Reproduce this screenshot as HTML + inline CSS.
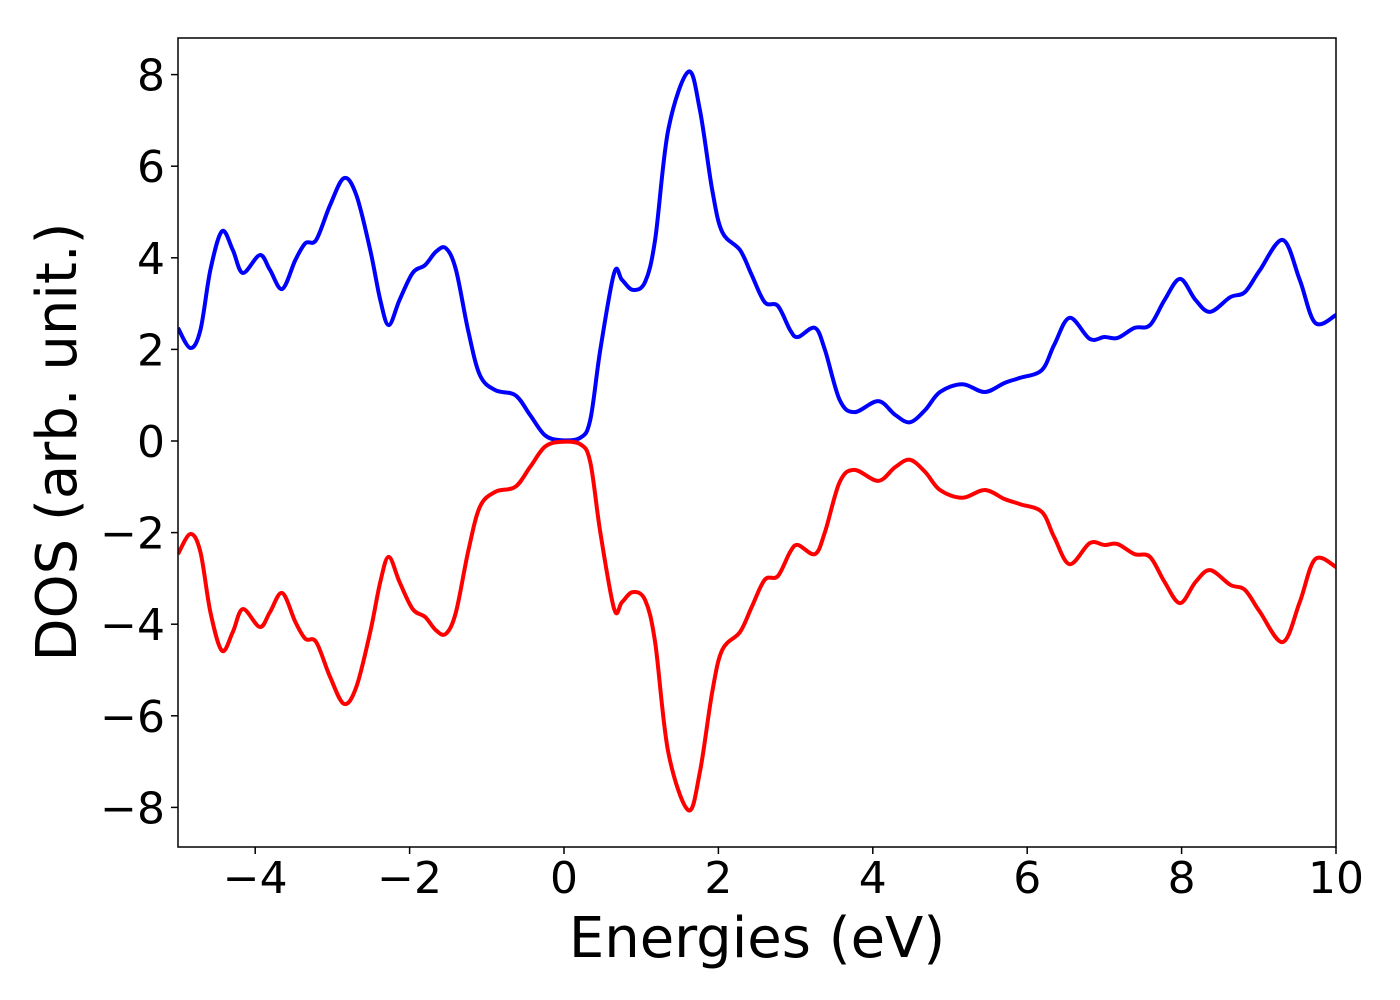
<!DOCTYPE html>
<html><head><meta charset="utf-8"><style>
body{margin:0;background:#fff;}
svg{display:block;font-family:"DejaVu Sans","Liberation Sans",sans-serif;}
</style></head><body>
<svg id="chart" width="1400" height="1000" viewBox="0 0 1400 1000" xmlns="http://www.w3.org/2000/svg"></svg>
<script>
const energies=[-5,-4.84,-4.71,-4.58,-4.43,-4.29,-4.16,-3.94,-3.81,-3.65,-3.48,-3.35,-3.21,-3.03,-2.85,-2.69,-2.51,-2.38,-2.27,-2.13,-1.96,-1.80,-1.66,-1.53,-1.40,-1.24,-1.09,-0.89,-0.63,-0.44,-0.25,-0.05,0.21,0.34,0.47,0.65,0.75,0.89,1.05,1.18,1.35,1.61,1.76,1.92,2.05,2.28,2.43,2.60,2.77,2.93,3.03,3.25,3.38,3.57,3.76,4.07,4.29,4.48,4.68,4.87,5.16,5.45,5.71,5.91,6.19,6.35,6.55,6.81,7.00,7.17,7.39,7.59,7.78,7.98,8.18,8.37,8.63,8.82,9.01,9.31,9.53,9.73,10];
const dosUp=[2.47,2.03,2.42,3.74,4.58,4.17,3.67,4.06,3.74,3.32,3.95,4.32,4.39,5.15,5.74,5.37,4.17,3.08,2.53,3.08,3.67,3.84,4.13,4.21,3.74,2.4,1.44,1.11,1.0,0.57,0.13,0.02,0.07,0.46,1.99,3.67,3.52,3.3,3.47,4.39,6.79,8.06,7.23,5.48,4.56,4.17,3.63,3.03,2.95,2.42,2.27,2.47,1.99,0.9,0.63,0.87,0.57,0.41,0.68,1.07,1.24,1.07,1.27,1.38,1.55,2.1,2.69,2.23,2.27,2.25,2.47,2.53,3.08,3.54,3.08,2.82,3.14,3.25,3.72,4.39,3.52,2.58,2.75];
const dosDown=dosUp.map(v=>-v);
const xTicks=[-4,-2,0,2,4,6,8,10];
const yTicks=[-8,-6,-4,-2,0,2,4,6,8];
const L=178,R=1336,T=38,B=847;
const xS=v=>L+(v+5)*(R-L)/15;
const yS=v=>441-v*45.8;
const svg=document.getElementById('chart');
const NS='http://www.w3.org/2000/svg';
function mk(tag,attrs,parent){const e=document.createElementNS(NS,tag);for(const k in attrs)e.setAttribute(k,attrs[k]);(parent||svg).appendChild(e);return e;}
function pathD(xs,ys){const p=xs.map((x,i)=>[xS(x),yS(ys[i])]);let d='M'+p[0][0]+','+p[0][1];
for(let i=0;i<p.length-1;i++){const p0=p[i-1]||p[i],p1=p[i],p2=p[i+1],p3=p[i+2]||p2;
const c1x=p1[0]+(p2[0]-p0[0])/6,c1y=p1[1]+(p2[1]-p0[1])/6,c2x=p2[0]-(p3[0]-p1[0])/6,c2y=p2[1]-(p3[1]-p1[1])/6;
d+=` C${c1x},${c1y} ${c2x},${c2y} ${p2[0]},${p2[1]}`;}return d;}
const cp=mk('clipPath',{id:'clip'});
mk('rect',{x:L,y:T,width:R-L,height:B-T},cp);
const up=mk('path',{d:pathD(energies,dosUp),fill:'none',stroke:'#0000ff','stroke-width':4,'clip-path':'url(#clip)'});


const dn=mk('path',{d:pathD(energies,dosDown),fill:'none',stroke:'#ff0000','stroke-width':4,'clip-path':'url(#clip)'});


const frame=mk('rect',{x:L,y:T,width:R-L,height:B-T,fill:'none',stroke:'#000','stroke-width':1.5});


xTicks.forEach(v=>{const x=xS(v);mk('line',{x1:x,x2:x,y1:B,y2:B+7,stroke:'#000','stroke-width':1.5});
const t=mk('text',{x:x,y:893,'font-size':44,'text-anchor':'middle',fill:'#000'});t.textContent=(v<0?'\u2212'+(-v):v);

});
yTicks.forEach(v=>{const y=yS(v);mk('line',{x1:L-7,x2:L,y1:y,y2:y,stroke:'#000','stroke-width':1.5});
const t=mk('text',{x:165,y:y+16,'font-size':44,'text-anchor':'end',fill:'#000'});t.textContent=(v<0?'\u2212'+(-v):v);

});
const xt=mk('text',{x:757,y:957,'font-size':56,'text-anchor':'middle',fill:'#000'});xt.textContent='Energies (eV)';


const yt=mk('text',{x:0,y:0,'font-size':56,'text-anchor':'middle',fill:'#000',transform:'translate(76,442) rotate(-90)'});yt.textContent='DOS (arb. unit.)';


</script>
</body></html>
